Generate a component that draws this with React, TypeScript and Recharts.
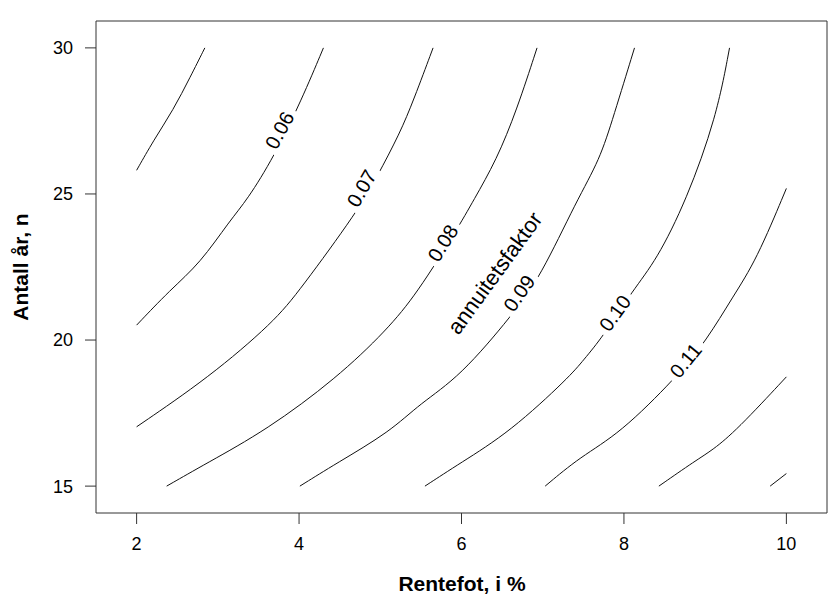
import { LineChart, Line, XAxis, YAxis, ReferenceDot, Label } from 'recharts';

// contour lines of the annuity factor, [rentefot i %, antall år n]
const c05 = [[2.0, 25.81], [2.21, 26.84], [2.45, 27.87], [2.66, 29.0], [2.84, 30.0]];
const c06 = [[2.0, 20.51], [2.41, 21.71], [2.78, 22.62], [3.15, 24.1], [3.36, 24.79], [3.69, 26.27], [4.03, 28.21], [4.3, 30.0]];
const c07 = [[2.0, 17.03], [2.89, 18.72], [3.69, 20.62], [4.01, 21.71], [4.73, 24.45], [4.96, 25.59], [5.24, 27.07], [5.41, 28.21], [5.65, 30.0]];
const c08 = [[2.37, 15.0], [2.86, 15.78], [3.6, 16.92], [4.46, 18.69], [5.08, 20.34], [5.45, 21.59], [5.94, 23.76], [6.15, 24.79], [6.43, 26.16], [6.68, 27.87], [6.93, 30.0]];
const c09 = [[4.01, 15.0], [4.46, 15.78], [5.12, 16.86], [5.49, 17.83], [5.98, 18.74], [6.64, 20.91], [6.97, 22.16], [7.42, 24.79], [7.7, 26.16], [7.87, 27.64], [8.13, 30.0]];
const c10 = [[5.55, 15.0], [5.98, 15.78], [6.6, 16.86], [7.33, 18.74], [7.5, 19.31], [7.74, 20.11], [8.11, 21.71], [8.4, 22.73], [8.77, 24.79], [9.14, 27.64], [9.3, 30.0]];
const c11 = [[7.03, 15.0], [7.46, 16.0], [7.95, 16.8], [8.65, 18.74], [9.02, 20.0], [9.34, 21.48], [9.63, 22.73], [10.0, 25.19]];
const c12 = [[8.43, 15.0], [8.89, 15.89], [9.09, 16.23], [9.39, 16.92], [10.0, 18.74]];
const c13 = [[9.8, 15.0], [10.0, 15.43]];

const contours = [c05, c06, c07, c08, c09, c10, c11, c12, c13];

// label text, position on the line, and rotation
const labelText = ['0.06', '0.07', '0.08', '0.09', '0.10', '0.11'];
const labelPos = [[3.76, 27.18], [4.77, 25.19], [5.77, 23.32], [6.71, 21.6], [7.89, 20.92], [8.76, 19.3]];
const labelAngle = [-62, -60, -58, -55, -54, -51];

const xTicks = [2, 4, 6, 8, 10];
const yTicks = [15, 20, 25, 30];
const xDomain = [1.5, 10.5];
const yDomain = [14.08, 30.92];

const FONT = '"Liberation Sans", Arial, sans-serif';

const RotText = (props: any) => {
  const { cx, cy, text, angle, size, bg } = props;
  const w = text.length * size * 0.56 + 4;
  return (
    <g transform={`translate(${cx},${cy}) rotate(${angle})`}>
      {bg && <rect x={-w / 2} y={-size * 0.45} width={w} height={size * 0.9} fill="#fff" />}
      <text x={0} y={0} textAnchor="middle" dominantBaseline="central" fontSize={size} fontFamily={FONT} fill="#000">
        {text}
      </text>
    </g>
  );
};

const App = () => {
  const series = contours.map((c) => c.map(([i, n]) => ({ i, n })));

  return (
    <div style={{ position: 'absolute', left: 0, top: 0, background: '#fff' }}>
      <LineChart width={828} height={595} margin={{ top: 0, right: 0, bottom: 0, left: 0 }}>
        <XAxis
          dataKey="i"
          type="number"
          domain={xDomain}
          ticks={xTicks}
          allowDataOverflow
          height={82}
          tickSize={11}
          tickMargin={13}
          stroke="#333"
          tick={{ fill: '#000', fontSize: 18, fontFamily: FONT }}
        >
          <Label
            content={() => (
              <text x={462} y={591} textAnchor="middle" fontSize={21} fontWeight="bold" fontFamily={FONT} fill="#000">
                Rentefot, i %
              </text>
            )}
          />
        </XAxis>
        <XAxis
          xAxisId="top"
          orientation="top"
          type="number"
          domain={xDomain}
          ticks={xTicks}
          allowDataOverflow
          height={21}
          tickSize={11}
          tick={false}
          stroke="#333"
        />
        <YAxis
          type="number"
          domain={yDomain}
          ticks={yTicks}
          allowDataOverflow
          width={96}
          tickSize={11}
          tickMargin={12}
          stroke="#333"
          tick={{ fill: '#000', fontSize: 18, fontFamily: FONT }}
        >
          <Label
            content={() => (
              <text
                x={20}
                y={267}
                transform="rotate(-90 20 267)"
                textAnchor="middle"
                dominantBaseline="central"
                fontSize={21}
                fontWeight="bold"
                fontFamily={FONT}
                fill="#000"
              >
                Antall år, n
              </text>
            )}
          />
        </YAxis>
        <YAxis
          yAxisId="right"
          orientation="right"
          type="number"
          domain={yDomain}
          ticks={yTicks}
          allowDataOverflow
          width={1}
          tickSize={11}
          tick={false}
          stroke="#333"
        />
        {series.map((d, k) => (
          <Line
            key={k}
            data={d}
            dataKey="n"
            type="basis"
            stroke="#111"
            strokeWidth={1}
            dot={false}
            activeDot={false}
            isAnimationActive={false}
          />
        ))}
        {labelText.map((t, k) => (
          <ReferenceDot
            key={t}
            x={labelPos[k][0]}
            y={labelPos[k][1]}
            r={1}
            shape={(p: any) => <RotText cx={p.cx} cy={p.cy} text={t} angle={labelAngle[k]} size={20} bg />}
          />
        ))}
        <ReferenceDot
          x={6.41}
          y={22.29}
          r={1}
          shape={(p: any) => <RotText cx={p.cx} cy={p.cy} text="annuitetsfaktor" angle={-54} size={22} bg={false} />}
        />
      </LineChart>
    </div>
  );
};

export default App;
